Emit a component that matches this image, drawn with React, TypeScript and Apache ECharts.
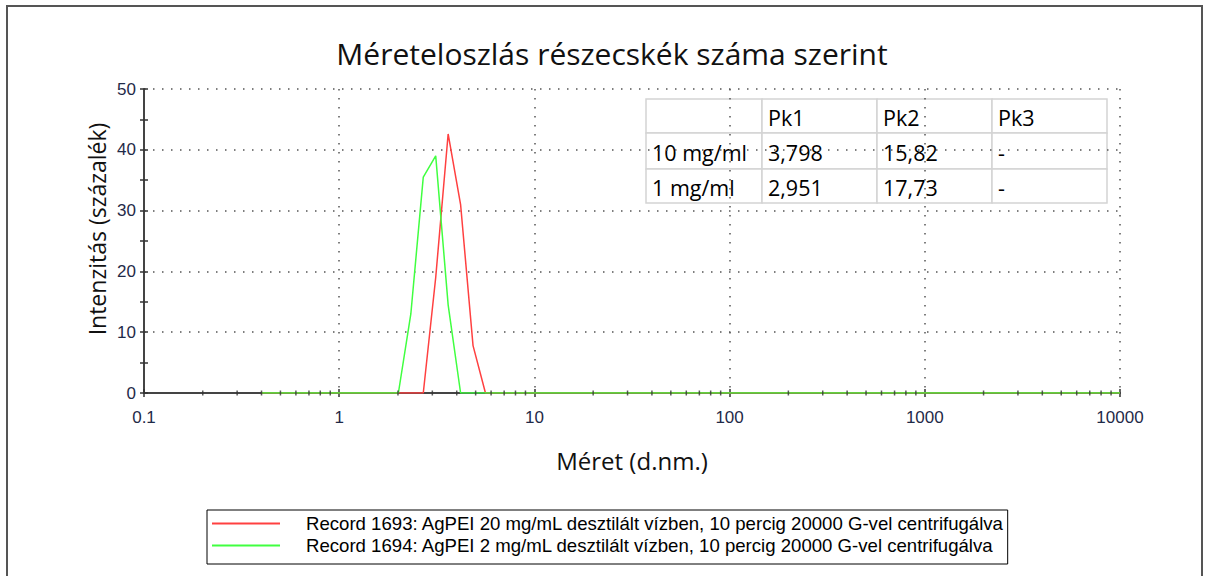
import React, { useEffect, useRef } from "react";
import * as echarts from "echarts";

const titleText = "Méreteloszlás részecskék száma szerint";
const xTitle = "Méret (d.nm.)";
const yTitle = "Intenzitás (százalék)";
const seriesNames = [
  "Record 1693: AgPEI 20 mg/mL desztilált vízben, 10 percig 20000 G-vel centrifugálva",
  "Record 1694: AgPEI 2 mg/mL desztilált vízben, 10 percig 20000 G-vel centrifugálva",
];
const seriesColors = ["#ff4040", "#40ff40"];

// size classes (d.nm)
const sizes = [
  0.4, 0.4632, 0.5365, 0.6213, 0.7195, 0.8332, 0.9649, 1.117, 1.294, 1.499,
  1.736, 2.01, 2.328, 2.696, 3.122, 3.615, 4.187, 4.849, 5.615, 6.503,
  7.531, 8.721, 10.1, 11.7, 13.54, 15.69, 18.17, 21.04, 24.36, 28.21,
  32.67, 37.84, 43.82, 50.75, 58.77, 68.06, 78.82, 91.28, 105.7, 122.4,
  141.8, 164.2, 190.1, 220.2, 255.0, 295.3, 342.0, 396.1, 458.7, 531.2,
  615.1, 712.4, 825.0, 955.4, 1106, 1281, 1484, 1718, 1990, 2305,
  2669, 3091, 3580, 4145, 4801, 5560, 6439, 7456, 8635, 10000,
];
const redValues = [
  0, 0, 0, 0, 0, 0, 0, 0, 0, 0,
  0, 0, 0, 0, 19, 42.6, 31, 7.8, 0, 0,
  0, 0, 0, 0, 0, 0, 0, 0, 0, 0,
  0, 0, 0, 0, 0, 0, 0, 0, 0, 0,
  0, 0, 0, 0, 0, 0, 0, 0, 0, 0,
  0, 0, 0, 0, 0, 0, 0, 0, 0, 0,
  0, 0, 0, 0, 0, 0, 0, 0, 0, 0,
];
const greenValues = [
  0, 0, 0, 0, 0, 0, 0, 0, 0, 0,
  0, 0, 13, 35.5, 39, 14.5, 0, 0, 0, 0,
  0, 0, 0, 0, 0, 0, 0, 0, 0, 0,
  0, 0, 0, 0, 0, 0, 0, 0, 0, 0,
  0, 0, 0, 0, 0, 0, 0, 0, 0, 0,
  0, 0, 0, 0, 0, 0, 0, 0, 0, 0,
  0, 0, 0, 0, 0, 0, 0, 0, 0, 0,
];

// minor tick positions of the log x axis
const xMinorTicks = [
  0.2, 0.3, 0.4, 0.5, 0.6, 0.7, 0.8, 0.9,
  2, 3, 4, 5, 6, 7, 8, 9,
  20, 30, 40, 50, 60, 70, 80, 90,
  200, 300, 400, 500, 600, 700, 800, 900,
  2000, 3000, 4000, 5000, 6000, 7000, 8000, 9000,
];

const tableHeader = ["", "Pk1", "Pk2", "Pk3"];
const tableRows = [
  ["10 mg/ml", "3,798", "15,82", "-"],
  ["1 mg/ml", "2,951", "17,73", "-"],
];

const GRID = { left: 144, top: 89, width: 976, height: 304 };
const labelColor = "#1f2a48";
const gridLine = { color: "#555", type: [1.5, 7.5] as any, width: 1.5 };

function buildTable() {
  const colW = [116, 115, 115, 115];
  const rowH = [34, 36, 34];
  const children: any[] = [];
  let y = 0;
  const rows = [tableHeader, ...tableRows];
  rows.forEach((row, ri) => {
    let x = 0;
    row.forEach((cell, ci) => {
      children.push({
        type: "rect",
        shape: { x, y, width: colW[ci], height: rowH[ri] },
        style: { fill: "#fff", stroke: "#d4d4d4", lineWidth: 1.5 },
      });
      children.push({
        type: "text",
        x: x + 6,
        y: y + rowH[ri] / 2 + 1,
        style: {
          text: cell,
          fontFamily: "Open Sans",
          fontSize: 21.5,
          fill: "#000",
          align: "left",
          verticalAlign: "middle",
        },
      });
      x += colW[ci];
    });
    y += rowH[ri];
  });
  return { type: "group", x: 646, y: 99, children, z: 10 };
}

export default function App() {
  const ref = useRef<HTMLDivElement>(null);
  useEffect(() => {
    if (!ref.current) return;
    const chart = echarts.init(ref.current, null, { renderer: "svg" });
    const fmt = (v: number) => String(+Number(v).toPrecision(6));
    const option: any = {
      animation: false,
      backgroundColor: "#fff",
      title: {
        text: titleText,
        left: 607,
        textAlign: "center",
        top: 33,
        textStyle: { fontFamily: "Open Sans", fontSize: 30, fontWeight: "normal", color: "#111" },
      },
      legend: {
        orient: "vertical",
        left: 207,
        top: 510,
        data: seriesNames,
        icon: "rect",
        itemWidth: 68,
        itemHeight: 2,
        itemGap: 3,
        borderColor: "#000",
        borderWidth: 1,
        padding: [4, 3, 9, 5],
        selectedMode: false,
        textStyle: {
          fontFamily: "Liberation Sans",
          fontSize: 18.6,
          lineHeight: 16,
          color: "#000",
          padding: [0, 0, 0, 21],
        },
      },
      grid: [{ ...GRID }, { ...GRID }],
      xAxis: [
        {
          type: "log",
          logBase: 10,
          min: 0.1,
          max: 10000,
          gridIndex: 0,
          axisLine: { show: true, lineStyle: { color: "#444", width: 2 } },
          axisTick: { show: true, length: 4, lineStyle: { color: "#333", width: 1.5 } },
          axisLabel: { fontFamily: "Liberation Sans", fontSize: 17, color: labelColor, margin: 16, formatter: fmt },
          splitLine: { show: true, lineStyle: gridLine },
          name: xTitle,
          nameLocation: "middle",
          nameGap: 55,
          nameTextStyle: { fontFamily: "Open Sans", fontSize: 24, color: "#111" },
        },
        {
          type: "log",
          logBase: 10,
          min: 0.1,
          max: 10000,
          gridIndex: 1,
          axisLine: { show: false },
          axisTick: { show: true, inside: true, length: 4, lineStyle: { color: "#333", width: 1.5 } },
          axisLabel: { show: false },
          splitLine: { show: false },
        },
      ],
      yAxis: [
        {
          type: "value",
          min: 0,
          max: 50,
          interval: 10,
          gridIndex: 0,
          axisLine: { show: true, lineStyle: { color: "#444", width: 2 } },
          axisTick: { show: true, length: 4, lineStyle: { color: "#333", width: 1.5 } },
          minorTick: { show: true, splitNumber: 2, length: 4, lineStyle: { color: "#333", width: 1.5 } },
          axisLabel: { fontFamily: "Liberation Sans", fontSize: 17, color: labelColor, margin: 8 },
          splitLine: { show: true, lineStyle: gridLine },
        },
        {
          type: "value",
          min: 0,
          max: 50,
          interval: 10,
          gridIndex: 1,
          axisLine: { show: false },
          axisTick: { show: true, inside: true, length: 4, lineStyle: { color: "#333", width: 1.5 } },
          minorTick: { show: true, splitNumber: 2, length: 4, lineStyle: { color: "#333", width: 1.5 } },
          axisLabel: { show: false },
          splitLine: { show: false },
        },
      ],
      graphic: [
        {
          type: "rect",
          x: 7,
          y: 6,
          shape: { width: 1195, height: 600 },
          style: { fill: "none", stroke: "#555", lineWidth: 2 },
          silent: true,
        },
        {
          type: "text",
          x: 97,
          y: 229,
          rotation: Math.PI / 2,
          style: {
            text: yTitle,
            fontFamily: "Open Sans",
            fontSize: 23,
            fill: "#111",
            align: "center",
            verticalAlign: "middle",
          },
        },
        buildTable(),
      ],
      series: [
        {
          name: seriesNames[0],
          type: "line",
          xAxisIndex: 0,
          yAxisIndex: 0,
          showSymbol: false,
          symbol: "none",
          color: seriesColors[0],
          lineStyle: { color: seriesColors[0], width: 1.5 },
          data: sizes.map((s, i) => [s, redValues[i]]),
          z: 3,
        },
        {
          name: seriesNames[1],
          type: "line",
          xAxisIndex: 0,
          yAxisIndex: 0,
          showSymbol: false,
          symbol: "none",
          color: seriesColors[1],
          lineStyle: { color: seriesColors[1], width: 1.5 },
          data: sizes.map((s, i) => [s, greenValues[i]]),
          z: 4,
        },
        {
          name: "minorTicks",
          type: "scatter",
          xAxisIndex: 0,
          yAxisIndex: 0,
          symbol: "rect",
          symbolSize: [1.5, 5],
          itemStyle: { color: "#333" },
          silent: true,
          data: xMinorTicks.map((v) => [v, 0]),
          z: 5,
        },
      ],
    };
    chart.setOption(option);
    return () => chart.dispose();
  }, []);
  return (
    <div
      ref={ref}
      style={{ position: "fixed", left: 0, top: 0, width: 1208, height: 576, background: "#fff" }}
    />
  );
}
